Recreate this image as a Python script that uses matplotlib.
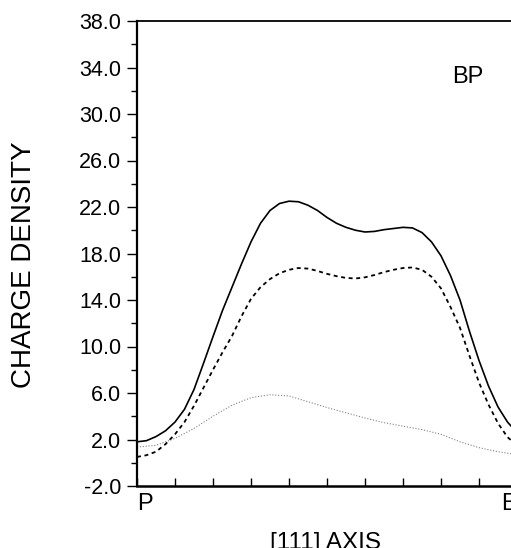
import matplotlib
matplotlib.use("Agg")
import matplotlib.pyplot as plt
from matplotlib.ticker import MultipleLocator, FormatStrFormatter

plt.rcParams['font.family'] = ['Liberation Sans', 'DejaVu Sans']

# position along [111] axis, P = 0, E = 1
x_solid = [0.000, 0.025, 0.050, 0.075, 0.100, 0.125, 0.150, 0.175, 0.200, 0.225,
           0.250, 0.275, 0.300, 0.325, 0.350, 0.375, 0.400, 0.425, 0.450, 0.475,
           0.500, 0.525, 0.550, 0.575, 0.600, 0.625, 0.650, 0.675, 0.700, 0.725,
           0.750, 0.775, 0.800, 0.825, 0.850, 0.875, 0.900, 0.925, 0.950, 0.975,
           1.000]
y_solid = [1.8, 1.9, 2.25, 2.75, 3.5, 4.6, 6.3, 8.55, 10.85, 13.1,
           15.1, 17.1, 19.0, 20.6, 21.7, 22.3, 22.5, 22.45, 22.15, 21.7,
           21.1, 20.6, 20.25, 20.0, 19.85, 19.9, 20.05, 20.15, 20.25, 20.2,
           19.8, 19.0, 17.8, 16.1, 14.0, 11.3, 8.8, 6.6, 4.8, 3.5,
           2.6]

x_dash = x_solid
y_dash = [0.5, 0.65, 0.95, 1.6, 2.45, 3.5, 4.9, 6.45, 8.0, 9.5,
          10.9, 12.6, 14.1, 15.1, 15.8, 16.3, 16.6, 16.75, 16.7, 16.5,
          16.25, 16.05, 15.9, 15.85, 15.95, 16.15, 16.4, 16.6, 16.75, 16.8,
          16.6, 16.0, 15.0, 13.4, 11.6, 9.2, 6.9, 5.0, 3.4, 2.2,
          1.5]

x_dot = [0.00, 0.05, 0.10, 0.15, 0.20, 0.25, 0.30, 0.35, 0.40, 0.45,
         0.50, 0.55, 0.60, 0.65, 0.70, 0.75, 0.80, 0.85, 0.90, 0.95, 1.00]
y_dot = [1.35, 1.5, 2.1, 2.95, 4.0, 4.95, 5.6, 5.85, 5.75, 5.25,
         4.75, 4.3, 3.85, 3.45, 3.15, 2.85, 2.45, 1.8, 1.3, 0.95, 0.7]

y_major = [-2, 2, 6, 10, 14, 18, 22, 26, 30, 34, 38]
x_ticks = [0.1 * i for i in range(11)]

fig = plt.figure(figsize=(5.11, 5.48), dpi=100)
ax = fig.add_axes([137 / 511, 1 - 486 / 548, 380 / 511, 465 / 548])

ax.plot(x_solid, y_solid, color="black", lw=1.2, solid_joinstyle="round")
ax.plot(x_dash, y_dash, color="black", lw=1.3, linestyle=(0, (2.2, 2.0)))
ax.plot(x_dot, y_dot, color="0.5", lw=0.8, linestyle=(0, (1, 1.6)))

ax.set_xlim(0, 1)
ax.set_ylim(-2, 38)

ax.set_yticks(y_major)
ax.yaxis.set_minor_locator(MultipleLocator(2))
ax.yaxis.set_major_formatter(FormatStrFormatter("%.1f"))
ax.tick_params(axis="y", which="major", direction="out", length=7.5, width=1.0,
               labelsize=15.5, pad=4)
ax.tick_params(axis="y", which="minor", direction="out", length=4, width=1.0)

ax.set_xticks(x_ticks)
ax.set_xticklabels([])
ax.tick_params(axis="x", which="major", direction="in", length=6, width=1.0)

ax.spines["right"].set_visible(False)
ax.spines["left"].set_linewidth(1.6)
ax.spines["bottom"].set_linewidth(1.8)
ax.spines["top"].set_linewidth(1.3)

ax.text(0.0, -2.6, "P", fontsize=17, ha="left", va="top")
ax.text(0.958, -2.6, "E", fontsize=17, ha="left", va="top")

fig.text(452 / 511, 1 - 83 / 548, "BP", fontsize=17, ha="left", va="baseline")
fig.text(24 / 511, 1 - 265 / 548, "CHARGE DENSITY", fontsize=20,
         rotation=90, ha="center", va="center")
fig.text(325 / 511, 1 - 532 / 548, "[111] AXIS", fontsize=17.5,
         ha="center", va="top")

fig.savefig("out.png", dpi=100)
